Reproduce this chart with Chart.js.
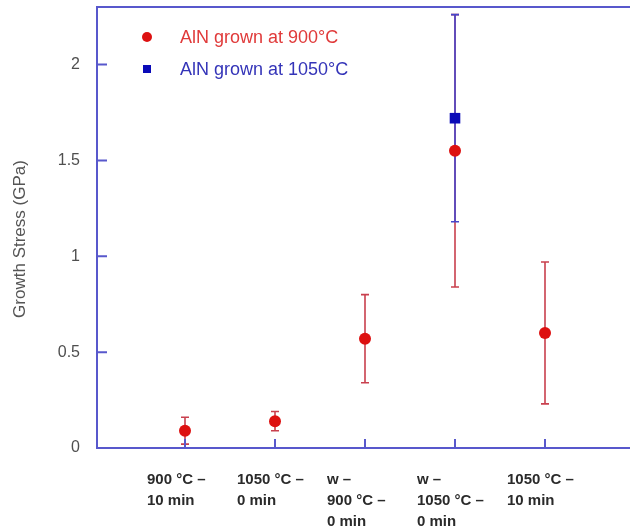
<!DOCTYPE html>
<html>
<head>
<meta charset="utf-8">
<script src="https://cdn.jsdelivr.net/npm/chart.js@4.4.1/dist/chart.umd.min.js"></script>
<style>
  html, body { margin: 0; padding: 0; background: #fff; }
  #wrap { width: 630px; height: 529px; }
</style>
</head>
<body>
<div id="wrap"><canvas id="grafico" width="630" height="529"></canvas></div>
<script>
// categorias del eje x (una linea por elemento)
const categorias = [
    ['900 °C –', '10 min'],
    ['1050 °C –', '0 min'],
    ['w –', '900 °C –', '0 min'],
    ['w –', '1050 °C –', '0 min'],
    ['1050 °C –', '10 min']
];

// AlN crecido a 900 °C
const estres900 = [0.09, 0.14, 0.57, 1.55, 0.60];
const error900 = [0.07, 0.05, 0.23, 0.71, 0.37];

// AlN crecido a 1050 °C (solo la muestra w - 1050 °C)
const estres1050 = [null, null, null, 1.72, null];
const error1050 = [null, null, null, 0.54, null];

const ticksY = [0, 0.5, 1, 1.5, 2];

const AZUL_EJE = '#5858cc';
const FUENTE = '"Liberation Sans", Arial, sans-serif';

function puntos(valores, errores) {
    const out = [];
    valores.forEach((v, i) => {
        if (v !== null) out.push({ x: i + 1, y: v, err: errores[i] });
    });
    return out;
}

// barras de error dibujadas con las escalas del grafico
const barrasError = {
    id: 'barrasError',
    beforeDatasetsDraw(chart) {
        const { ctx, scales: { x, y } } = chart;
        chart.data.datasets.forEach(ds => {
            ctx.save();
            ctx.strokeStyle = ds.colorError;
            ctx.lineWidth = 1.6;
            ds.data.forEach(p => {
                const px = x.getPixelForValue(p.x);
                const lo = y.getPixelForValue(p.y - p.err);
                const hi = y.getPixelForValue(p.y + p.err);
                ctx.beginPath();
                ctx.moveTo(px, lo); ctx.lineTo(px, hi);
                ctx.moveTo(px - 4, lo); ctx.lineTo(px + 4, lo);
                ctx.moveTo(px - 4, hi); ctx.lineTo(px + 4, hi);
                ctx.stroke();
            });
            ctx.restore();
        });
    }
};

// marco superior, marcas hacia dentro, etiquetas, titulo del eje y leyenda
const marco = {
    id: 'marco',
    afterDraw(chart) {
        const { ctx, chartArea: a, scales: { x, y } } = chart;
        ctx.save();
        ctx.strokeStyle = AZUL_EJE;
        ctx.lineWidth = 2;
        ctx.beginPath();
        ctx.moveTo(a.left, a.top); ctx.lineTo(a.right, a.top);
        ticksY.forEach(v => {
            const py = y.getPixelForValue(v);
            ctx.moveTo(a.left, py); ctx.lineTo(a.left + 10, py);
        });
        categorias.forEach((c, i) => {
            const px = x.getPixelForValue(i + 1);
            ctx.moveTo(px, a.bottom); ctx.lineTo(px, a.bottom - 9);
        });
        ctx.stroke();

        // etiquetas de categoria, alineadas a la izquierda
        ctx.fillStyle = '#2a2a2a';
        ctx.font = 'bold 15px ' + FUENTE;
        ctx.textAlign = 'left';
        ctx.textBaseline = 'middle';
        categorias.forEach((c, i) => {
            const px = x.getPixelForValue(i + 1) - 38;
            c.forEach((linea, j) => ctx.fillText(linea, px, a.bottom + 32 + j * 20.8));
        });

        // titulo del eje y
        ctx.save();
        ctx.translate(20, y.getPixelForValue(1.09));
        ctx.rotate(-Math.PI / 2);
        ctx.textAlign = 'center';
        ctx.fillStyle = '#555';
        ctx.font = '17px ' + FUENTE;
        ctx.fillText('Growth Stress (GPa)', 0, 0);
        ctx.restore();

        // leyenda
        const lx = a.left + 50, ly = a.top + 30;
        ctx.font = '18px ' + FUENTE;
        ctx.fillStyle = '#dd1111';
        ctx.beginPath(); ctx.arc(lx, ly, 5, 0, Math.PI * 2); ctx.fill();
        ctx.fillStyle = '#e03a3a';
        ctx.fillText('AlN grown at 900°C', lx + 33, ly + 1);
        ctx.fillStyle = '#0a0ab8';
        ctx.fillRect(lx - 4, ly + 32 - 4, 8, 8);
        ctx.fillStyle = '#3434b8';
        ctx.fillText('AlN grown at 1050°C', lx + 33, ly + 33);
        ctx.restore();
    }
};

const ctx = document.getElementById('grafico').getContext('2d');
const chart = new Chart(ctx, {
    type: 'scatter',
    data: {
        datasets: [
            {
                label: 'AlN grown at 900°C',
                data: puntos(estres900, error900),
                pointStyle: 'circle',
                pointRadius: 6,
                backgroundColor: '#dd1010',
                borderWidth: 0,
                colorError: '#c9404e'
            },
            {
                label: 'AlN grown at 1050°C',
                data: puntos(estres1050, error1050),
                pointStyle: 'rect',
                pointRadius: 7.5,
                backgroundColor: '#0a0ab8',
                borderWidth: 0,
                colorError: '#4646cc'
            }
        ]
    },
    options: {
        responsive: false,
        animation: false,
        layout: { autoPadding: false, padding: { top: 7, right: 0, left: 0, bottom: 0 } },
        plugins: {
            legend: { display: false },
            tooltip: { enabled: false }
        },
        scales: {
            x: {
                type: 'linear',
                min: 1 - 88 / 90,
                max: 1 - 88 / 90 + 533 / 90,
                afterBuildTicks: s => { s.ticks = categorias.map((c, i) => ({ value: i + 1 })); },
                afterFit: s => { s.height = 81; s.paddingLeft = 0; s.paddingRight = 0; },
                ticks: { display: false },
                grid: { display: true, drawOnChartArea: false, drawTicks: false },
                border: { color: AZUL_EJE, width: 2 }
            },
            y: {
                min: 0,
                max: 2.3,
                afterBuildTicks: s => { s.ticks = ticksY.map(v => ({ value: v })); },
                afterFit: s => { s.width = 97; s.paddingTop = 0; s.paddingBottom = 0; },
                ticks: {
                    color: '#4f4f4f',
                    padding: 17,
                    font: { family: FUENTE, size: 16 },
                    callback: v => String(v)
                },
                grid: { display: true, drawOnChartArea: false, drawTicks: false },
                border: { color: AZUL_EJE, width: 2 }
            }
        }
    },
    plugins: [barrasError, marco]
});
</script>
</body>
</html>
